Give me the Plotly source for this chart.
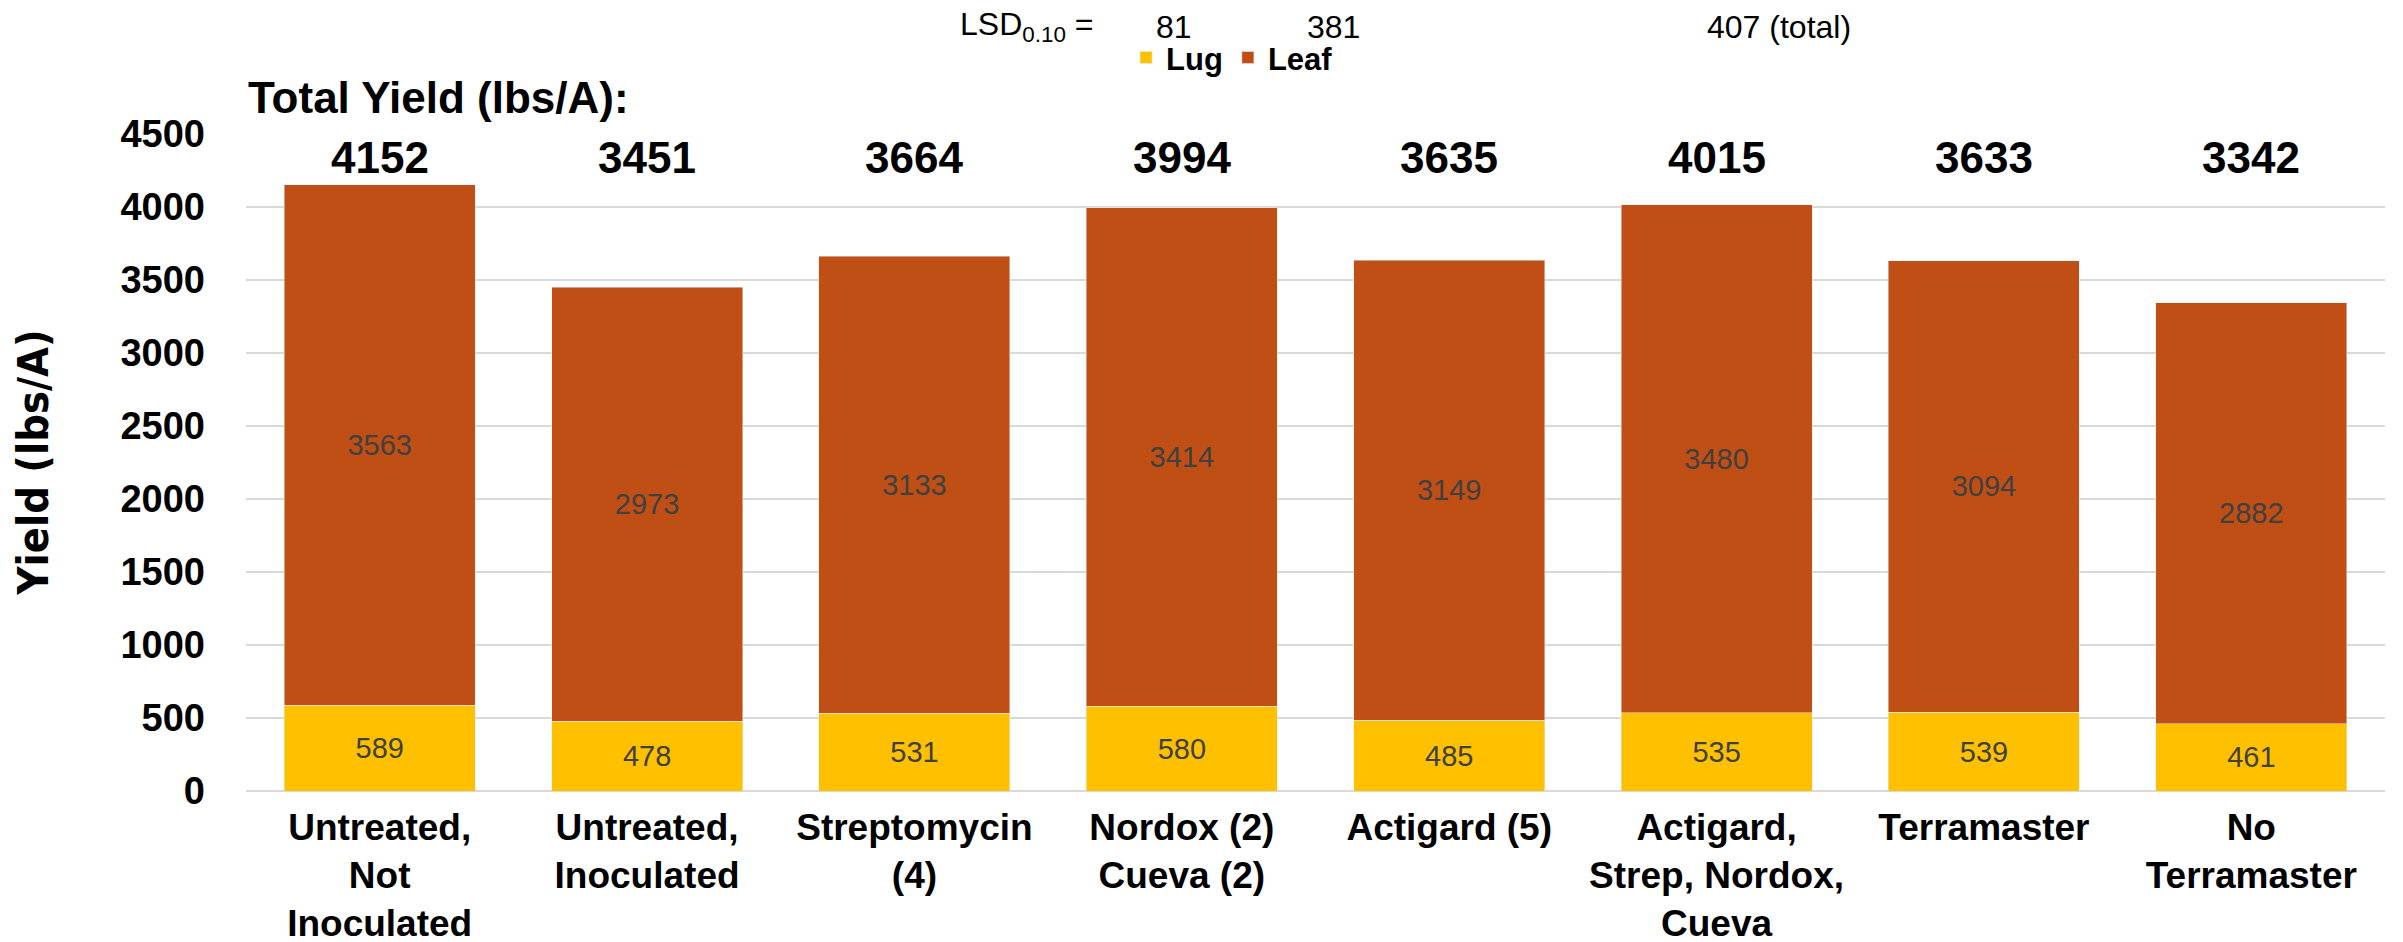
import plotly.graph_objects as go

categories = [
    "Untreated,<br>Not<br>Inoculated",
    "Untreated,<br>Inoculated",
    "Streptomycin<br>(4)",
    "Nordox (2)<br>Cueva (2)",
    "Actigard (5)",
    "Actigard,<br>Strep, Nordox,<br>Cueva",
    "Terramaster",
    "No<br>Terramaster",
]
lug = [589, 478, 531, 580, 485, 535, 539, 461]
leaf = [3563, 2973, 3133, 3414, 3149, 3480, 3094, 2882]
totals = [4152, 3451, 3664, 3994, 3635, 4015, 3633, 3342]
y_ticks = [0, 500, 1000, 1500, 2000, 2500, 3000, 3500, 4000, 4500]
lsd_values = ["81", "381", "407 (total)"]

LUG_COLOR = "#FFC000"
LEAF_COLOR = "#C04F15"
BOLD = "Liberation Sans, Arial, sans-serif"
NARROW = "Liberation Sans Narrow, DejaVu Sans Condensed, Liberation Sans, Arial, sans-serif"

fig = go.Figure()
fig.add_trace(go.Bar(
    x=categories, y=lug, name="Lug", marker_color=LUG_COLOR,
    text=[str(v) for v in lug], textposition="inside", insidetextanchor="middle",
    textfont=dict(size=29, color="#404040", family=BOLD), textangle=0,
))
fig.add_trace(go.Bar(
    x=categories, y=leaf, name="Leaf", marker_color=LEAF_COLOR,
    text=[str(v) for v in leaf], textposition="inside", insidetextanchor="middle",
    textfont=dict(size=29, color="#404040", family=BOLD), textangle=0,
))

annotations = []
for c, t in zip(categories, totals):
    annotations.append(dict(
        x=c, y=4340, xref="x", yref="y", text=str(t), showarrow=False,
        font=dict(size=44, color="black", family=BOLD, weight="bold"),
        xanchor="center", yanchor="middle",
    ))

annotations.append(dict(
    x=0.0, y=1.0548, xref="paper", yref="paper", text="Total Yield (lbs/A):",
    showarrow=False, xanchor="left", yanchor="middle",
    font=dict(size=44, color="black", family=BOLD, weight="bold"),
))
annotations.append(dict(
    x=-0.1, y=0.5, xref="paper", yref="paper", text="Yield (lbs/A)",
    showarrow=False, xanchor="center", yanchor="middle", textangle=-90,
    font=dict(size=43, color="black", family=NARROW, weight="bold"),
))
# LSD row
lsd_y = 1.163
annotations.append(dict(
    x=(958 - 246) / 2139, y=lsd_y, xref="paper", yref="paper",
    text="LSD<sub>0.10</sub> =", showarrow=False, xanchor="left", yanchor="middle",
    font=dict(size=32, color="black", family=BOLD),
))
for txt, cx in zip(lsd_values, [1174, 1333, 1779]):
    annotations.append(dict(
        x=(cx - 246) / 2139, y=lsd_y, xref="paper", yref="paper",
        text=txt, showarrow=False, xanchor="center", yanchor="middle",
        font=dict(size=32, color="black", family=BOLD),
    ))

fig.update_layout(
    barmode="stack",
    bargap=0.286,
    width=2403, height=942,
    margin=dict(l=246, r=18, t=134, b=151, autoexpand=False),
    plot_bgcolor="white", paper_bgcolor="white",
    showlegend=True,
    legend=dict(
        orientation="h", x=0.461, y=1.116, xanchor="center", yanchor="middle",
        font=dict(size=31, color="black", family=BOLD, weight="bold"),
        traceorder="normal", itemclick=False, bgcolor="rgba(0,0,0,0)",
    ),
    annotations=annotations,
    xaxis=dict(
        tickfont=dict(size=37, color="black", family=BOLD, weight="bold"),
        showgrid=False, showline=False, ticks="", automargin=False,
        ticklabelstandoff=11,
    ),
    yaxis=dict(
        range=[0, 4500], tickvals=y_ticks, ticktext=[str(v) for v in y_ticks],
        tickfont=dict(size=38, color="black", family=BOLD, weight="bold"),
        showgrid=True, gridcolor="#D9D9D9", gridwidth=2,
        zeroline=True, zerolinecolor="#D9D9D9", zerolinewidth=2,
        showline=False, ticks="", automargin=False, ticklabelstandoff=40,
    ),
)

fig.write_html(
    "out.html",
    config={"displayModeBar": False},
    post_script="document.body.style.margin='0';document.body.style.overflow='hidden';",
)
